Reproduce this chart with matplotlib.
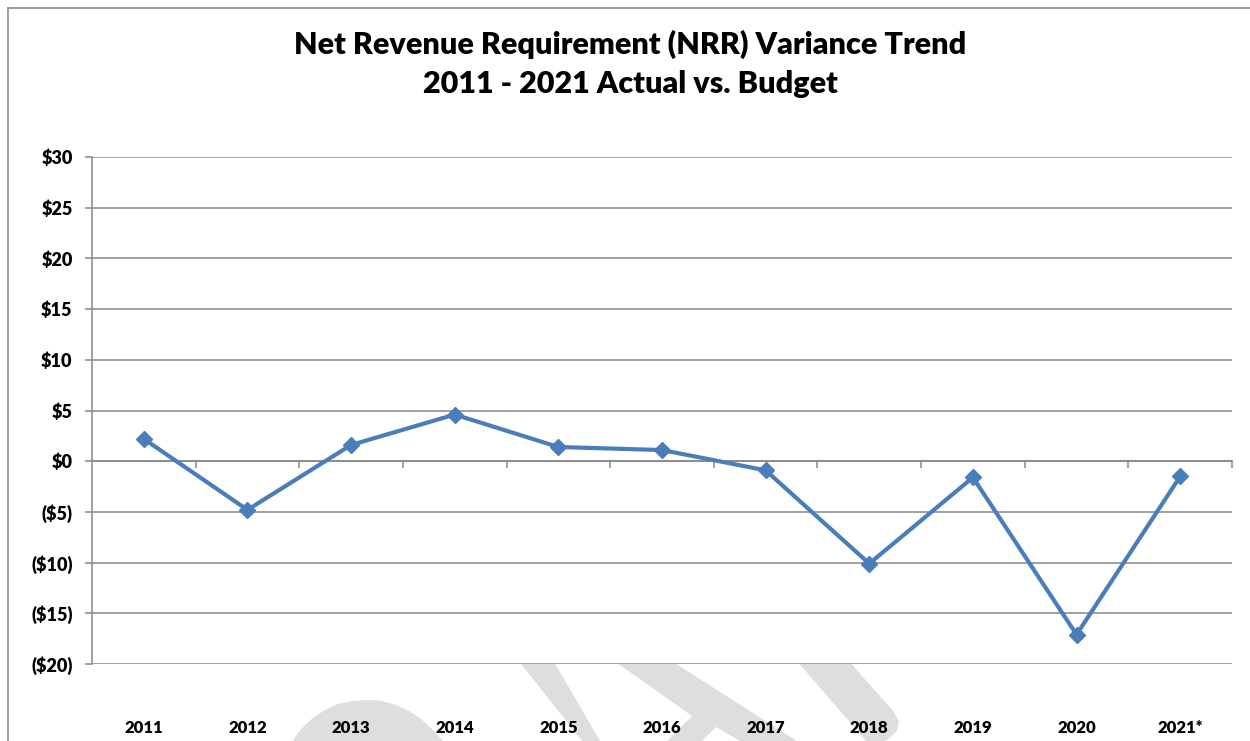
import matplotlib.pyplot as plt
from matplotlib.patches import Polygon
from matplotlib.lines import Line2D

# chart data
years = ['2011', '2012', '2013', '2014', '2015', '2016', '2017', '2018', '2019', '2020', '2021*']
variance = [2.2, -4.8, 1.6, 4.6, 1.4, 1.1, -0.9, -10.1, -1.6, -17.1, -1.5]
y_ticks = [30, 25, 20, 15, 10, 5, 0, -5, -10, -15, -20]
y_labels = ['$30', '$25', '$20', '$15', '$10', '$5', '$0', '($5)', '($10)', '($15)', '($20)']

W, H = 1250, 741
FONT = ['Lato', 'DejaVu Sans']
GRID = '#878787'
BLUE = '#4a7ebb'

def px(x, y):
    return (x / W, 1 - y / H)

fig = plt.figure(figsize=(W / 100, H / 100), dpi=100)
fig.patch.set_facecolor('white')

# chart border (left and top visible)
fig.add_artist(Line2D([8 / W, 8 / W], [0, 1 - 8 / H], color='#8c8c8c', lw=1.2))
fig.add_artist(Line2D([8 / W, 1], [1 - 8 / H, 1 - 8 / H], color='#8c8c8c', lw=1.2))

# faint watermark peeking out below the plot area
wm = [
    [(293, 741), (298, 733), (305, 725), (314, 717), (325, 710), (338, 704), (352, 701), (367, 700),
     (382, 701), (396, 705), (409, 711), (421, 719), (432, 729), (443, 741)],
    [(518, 660), (553, 660), (600, 741), (582, 741)],
    [(613, 660), (670, 660), (797, 741), (740, 741), (716, 727), (702, 741), (667, 741), (692, 716)],
    [(796, 660), (848, 660), (894, 712), (899, 722), (897, 731), (888, 739), (884, 741), (866, 741)],
]
for poly in wm:
    fig.add_artist(Polygon([px(x, y) for x, y in poly], closed=True,
                           facecolor='#dedede', edgecolor='none', zorder=-1))

ax = fig.add_axes([92 / W, 1 - 664 / H, (1232 - 92) / W, (664 - 157) / H])
ax.set_facecolor('white')

x = list(range(len(years)))
ax.plot(x, variance, color=BLUE, lw=3.0, marker='D', markersize=8.5,
        markerfacecolor=BLUE, markeredgecolor=BLUE, zorder=3, clip_on=False)

ax.set_xlim(-0.5, len(years) - 0.5)
ax.set_ylim(-20, 30)
ax.set_yticks(y_ticks)
ax.set_yticklabels(y_labels, fontfamily=FONT, fontweight='heavy', fontsize=13)
ax.yaxis.grid(True, color=GRID, lw=1.1)
ax.set_axisbelow(True)
ax.tick_params(axis='y', length=5, color=GRID, width=1.1, pad=9)

for s in ['top', 'right']:
    ax.spines[s].set_visible(False)
ax.spines['left'].set_color(GRID)
ax.spines['left'].set_linewidth(1.1)
ax.spines['bottom'].set_position(('data', 0))
ax.spines['bottom'].set_color(GRID)
ax.spines['bottom'].set_linewidth(1.1)

ax.set_xticks([i + 0.5 for i in x])
ax.set_xticklabels([])
ax.tick_params(axis='x', length=5, color=GRID, width=1.1, direction='out')

for i, lab in enumerate(years):
    ax.text(i, -0.126, lab, transform=ax.get_xaxis_transform(), ha='center', va='center',
            fontfamily=FONT, fontweight='heavy', fontsize=12, clip_on=False)

fig.text(630 / W, 1 - 44 / H, 'Net Revenue Requirement (NRR) Variance Trend',
         ha='center', va='center', fontfamily=FONT, fontweight='heavy', fontsize=22)
fig.text(630 / W, 1 - 84 / H, '2011 - 2021 Actual vs. Budget',
         ha='center', va='center', fontfamily=FONT, fontweight='heavy', fontsize=22)

fig.savefig('out.png', dpi=100)
